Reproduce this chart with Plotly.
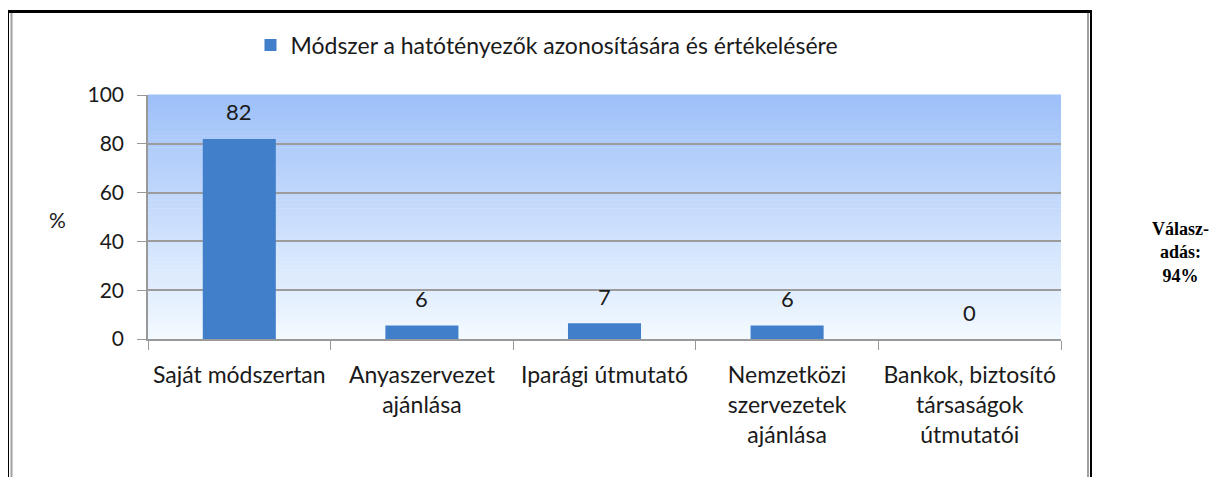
import plotly.graph_objects as go

categories = ["Saját módszertan", "Anyaszervezet<br>ajánlása", "Iparági útmutató",
              "Nemzetközi<br>szervezetek<br>ajánlása", "Bankok, biztosító<br>társaságok<br>útmutatói"]
values = [82, 5.5, 6.5, 5.5, 0]
value_labels = ["82", "6", "7", "6", "0"]
series_name = "Módszer a hatótényezők azonosítására és értékelésére"
y_ticks = [0, 20, 40, 60, 80, 100]

OFF = 8  # page body margin
W, H = 1221 - OFF, 477 - OFF
L, R, T, B = 148 - OFF, 1061 - OFF, 95 - OFF, 339 - OFF
FONT = "Lato"
TXT = "#1a1a1a"

fig = go.Figure()
fig.add_trace(go.Bar(x=categories, y=values, name=series_name, width=0.4,
                     marker=dict(color="#427FCB", line=dict(width=0)),
                     showlegend=True))

def px_x(p):
    return (p - OFF - L) / (R - L)

def px_y(p):
    return (B - (p - OFF)) / (B - T)

shapes = []
# vertical gradient background of plot area
top_c = (0x9E, 0xC0, 0xF9)
bot_c = (0xF2, 0xF9, 0xFF)
n = 60
for i in range(n):
    t = i / (n - 1)
    c = tuple(round(top_c[k] + (bot_c[k] - top_c[k]) * t) for k in range(3))
    shapes.append(dict(type="rect", xref="x domain", yref="y domain",
                       x0=0, x1=1, y0=1 - (i + 1) / n, y1=1 - i / n + 0.002,
                       fillcolor="rgb(%d,%d,%d)" % c, line=dict(width=0), layer="below"))
# chart frame
shapes += [
    dict(type="line", xref="paper", yref="paper", x0=px_x(7), x1=px_x(1092), y0=px_y(11.5), y1=px_y(11.5),
         line=dict(color="black", width=3)),
    dict(type="line", xref="paper", yref="paper", x0=px_x(8), x1=px_x(8), y0=px_y(10), y1=px_y(490),
         line=dict(color="black", width=2)),
    dict(type="line", xref="paper", yref="paper", x0=px_x(11.5), x1=px_x(11.5), y0=px_y(13), y1=px_y(490),
         line=dict(color="#A0A0A0", width=2)),
    dict(type="line", xref="paper", yref="paper", x0=px_x(1088), x1=px_x(1088), y0=px_y(13), y1=px_y(490),
         line=dict(color="#A0A0A0", width=2)),
    dict(type="line", xref="paper", yref="paper", x0=px_x(1091), x1=px_x(1091), y0=px_y(10), y1=px_y(490),
         line=dict(color="black", width=2)),
]

annotations = []
for c, v, lab in zip(categories, values, value_labels):
    annotations.append(dict(x=c, y=v, xref="x", yref="y", text=lab, showarrow=False,
                            yshift=27, font=dict(family=FONT, size=22, color=TXT)))
annotations.append(dict(x=px_x(57), y=px_y(219), xref="paper", yref="paper", text="%",
                        xanchor="center", yanchor="middle",
                        showarrow=False, font=dict(family=FONT, size=21, color=TXT)))
annotations.append(dict(x=px_x(1180), y=px_y(252), xref="paper", yref="paper",
                        xanchor="center", yanchor="middle",
                        text="<b>Válasz-<br>adás:<br>94%</b>", showarrow=False,
                        font=dict(family="Liberation Serif", size=18, color="black")))

fig.update_layout(
    width=W, height=H,
    margin=dict(l=L, r=W - R, t=T, b=H - B, pad=0),
    paper_bgcolor="white", plot_bgcolor="white",
    font=dict(family=FONT, size=23, color=TXT),
    showlegend=True,
    legend=dict(orientation="h", x=0.437, xanchor="center", y=px_y(45), yanchor="middle",
                font=dict(family=FONT, size=23, color=TXT), itemwidth=30,
                bgcolor="rgba(0,0,0,0)"),
    shapes=shapes,
    annotations=annotations,
    xaxis=dict(showgrid=False, showline=True, linecolor="#999999", linewidth=1.5,
               ticks="outside", ticklen=9, tickcolor="#999999", tickson="boundaries",
               ticklabelstandoff=15, tickfont=dict(family=FONT, size=23, color=TXT)),
    yaxis=dict(range=[0, 100], tickvals=y_ticks, showgrid=True, gridcolor="#9C9C9C", gridwidth=1.5,
               showline=True, linecolor="#999999", linewidth=1.5, ticks="outside", ticklen=9,
               tickcolor="#999999", zeroline=False, ticklabelstandoff=9,
               tickfont=dict(family=FONT, size=21, color=TXT)),
)

fig.write_html("out.html")
